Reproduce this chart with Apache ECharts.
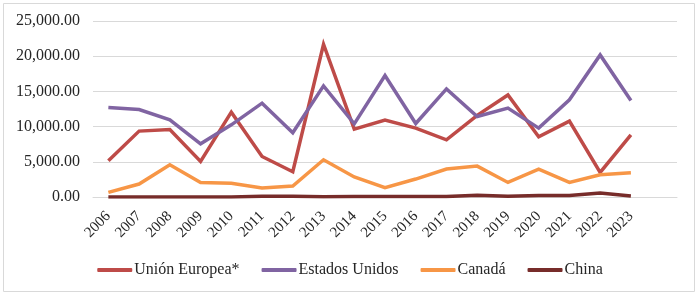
<!DOCTYPE html>
<html>
<head>
<meta charset="utf-8">
<script src="https://cdn.jsdelivr.net/npm/echarts@6/dist/echarts.min.js"></script>
<style>
html,body{margin:0;padding:0;background:#fff;}
#c{width:700px;height:297px;}
</style>
</head>
<body>
<div id="c"></div>
<script>
const years = ['2006','2007','2008','2009','2010','2011','2012','2013','2014','2015','2016','2017','2018','2019','2020','2021','2022','2023',''];
const unionEuropea = [5150,9360,9590,5050,12050,5760,3590,21700,9640,10920,9780,8120,11600,14500,8550,10780,3490,8830];
const estadosUnidos = [12700,12420,10960,7560,10250,13330,9120,15780,10390,17250,10440,15360,11430,12620,9780,13800,20180,13700];
const canada = [650,1840,4580,2070,1950,1270,1560,5290,2840,1320,2550,3970,4390,2070,3970,2070,3160,3450];
const china = [10,10,10,10,10,100,100,20,80,80,80,80,250,100,200,200,570,150];
const seriesNames = ['Unión Europea*','Estados Unidos','Canadá','China'];
const yTicks = {min:0, max:25000, interval:5000};

const font = 'Liberation Serif';
const colors = ['#BE4B48','#8064A2','#F79646','#772C2A'];
const dataSets = [unionEuropea, estadosUnidos, canada, china];

const chart = echarts.init(document.getElementById('c'), null, {renderer:'canvas'});
chart.setOption({
  animation:false,
  color: colors,
  textStyle:{fontFamily:font},
  graphic:[{type:'rect', shape:{x:3.5,y:3.5,width:691,height:288}, style:{fill:'none', stroke:'#d9d9d9', lineWidth:1}, silent:true}],
  grid:{left:93, right:23, top:21, bottom:100, containLabel:false},
  legend:{
    top:257, left:'center',
    itemWidth:35, itemHeight:4, itemGap:22,
    icon:'roundRect',
    textStyle:{fontFamily:font, fontSize:16, color:'#262626', padding:[0,0,0,-3]},
    data: seriesNames
  },
  xAxis:{
    type:'category', data:years, boundaryGap:true,
    axisLine:{show:true, lineStyle:{color:'#d9d9d9', width:1}},
    axisTick:{show:false},
    axisLabel:{rotate:45, interval:0, margin:17, fontFamily:font, fontSize:15, color:'#262626'}
  },
  yAxis:{
    type:'value', min:yTicks.min, max:yTicks.max, interval:yTicks.interval,
    axisLine:{show:false}, axisTick:{show:false},
    splitLine:{lineStyle:{color:'#d9d9d9', width:1}},
    axisLabel:{margin:13, fontFamily:font, fontSize:16, color:'#262626',
      formatter:v=>v.toLocaleString('en-US',{minimumFractionDigits:2, maximumFractionDigits:2})}
  },
  series: seriesNames.map((n,i)=>({
    name:n, type:'line', data:dataSets[i], showSymbol:false, symbol:'none',
    lineStyle:{width:3.5, color:colors[i], join:'miter'}, z: i===3?3:2
  }))
});
</script>
</body>
</html>
